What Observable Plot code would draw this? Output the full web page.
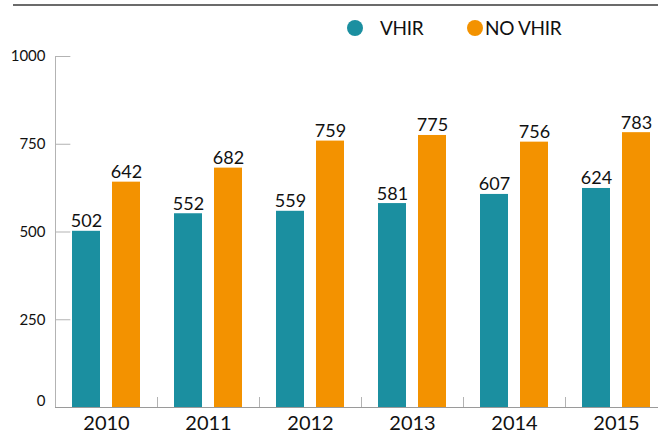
<!DOCTYPE html>
<html><head><meta charset="utf-8">
<script src="https://cdn.jsdelivr.net/npm/d3@7"></script>
<script src="https://cdn.jsdelivr.net/npm/@observablehq/plot@0.6"></script>
<style>
body{margin:0;background:#fff;font-family:Lato,sans-serif;}
#wrap{position:relative;width:658px;height:433px;overflow:hidden;}
#top{position:relative;height:46px;}
#rule{position:absolute;left:13px;right:0;top:4px;border-top:2px solid #6b6b6b;}
.item{position:absolute;top:18px;font-size:19px;line-height:20px;color:#111;display:flex;align-items:center;letter-spacing:-0.3px;}
.dot{display:inline-block;width:16px;height:16px;border-radius:50%;}
svg{display:block;overflow:visible;}
</style></head>
<body>
<div id="wrap">
  <div id="top">
    <div id="rule"></div>
    <div id="legend"></div>
  </div>
  <div id="chart"></div>
</div>
<script>
const years = ["2010", "2011", "2012", "2013", "2014", "2015"];
const series = ["VHIR", "NO VHIR"];
const vhir = [502, 552, 559, 581, 607, 624];
const noVhir = [642, 682, 759, 775, 756, 783];
const colors = ["#1b8fa0", "#f39200"];
const yTicks = [0, 250, 500, 750, 1000];

const data = years.flatMap((yr, i) => [
  {year: yr, series: series[0], value: vhir[i]},
  {year: yr, series: series[1], value: noVhir[i]}
]);

// legend
const legendPos = [{dot: 347, gap: 17}, {dot: 467, gap: 2}];
const legend = document.getElementById("legend");
series.forEach((s, i) => {
  const el = document.createElement("div");
  el.className = "item";
  el.style.left = legendPos[i].dot + "px";
  el.innerHTML = `<span class="dot" style="background:${colors[i]};margin-right:${legendPos[i].gap}px"></span><span>${s}</span>`;
  legend.appendChild(el);
});

const W = 658, H = 387, mT = 10, mB = 26, mL = 53, mR = -11;
const facetW = (W - mR - mL) / years.length;
const plotH = H - mT - mB;

const chart = Plot.plot({
  width: W, height: H,
  marginTop: mT, marginBottom: mB, marginLeft: mL, marginRight: mR,
  fx: {domain: years, padding: 0, label: null},
  x: {domain: series, paddingInner: 12 / 41, paddingOuter: 0.4, axis: null},
  y: {domain: [0, 1000], axis: null},
  color: {domain: series, range: colors},
  style: {fontFamily: "Lato, sans-serif", color: "#111", background: "transparent"},
  marks: [
    Plot.frame({anchor: "left", facetAnchor: "left", stroke: "#b3b3b3"}),
    Plot.frame({anchor: "left", stroke: "#b3b3b3", insetTop: plotH - 10}),
    Plot.gridY(yTicks, {facetAnchor: "left", insetRight: facetW - 16, stroke: "#b3b3b3", strokeOpacity: 1}),
    Plot.axisY(yTicks.filter(d => d > 0), {anchor: "left", tickSize: 0, tickPadding: 10, fontSize: 15, label: null, tickFormat: d => String(d)}),
    Plot.axisY([0], {anchor: "left", tickSize: 0, tickPadding: 10, fontSize: 15, label: null, dy: -6, tickFormat: d => String(d)}),
    Plot.ruleY([0], {stroke: "#9a9a9a"}),
    Plot.barY(data, {fx: "year", x: "series", y: "value", fill: "series"}),
    Plot.text(data, {fx: "year", x: "series", y: "value", text: d => String(d.value), dy: -4, lineAnchor: "bottom", fontSize: 18, fill: "#111"}),
    Plot.axisFx({anchor: "bottom", tickSize: 0, tickPadding: 8, fontSize: 20, label: null})
  ]
});
document.getElementById("chart").appendChild(chart);
</script>
</body></html>
